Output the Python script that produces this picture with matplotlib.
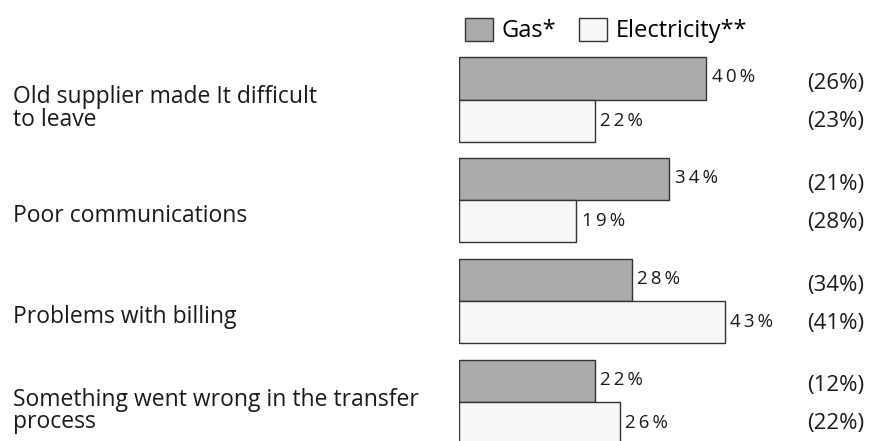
import matplotlib.pyplot as plt
from matplotlib.patches import Patch
from matplotlib.transforms import blended_transform_factory

plt.rcParams['font.family'] = ['Open Sans', 'DejaVu Sans']

categories = ["Old supplier made It difficult\nto leave",
              "Poor communications",
              "Problems with billing",
              "Something went wrong in the transfer\nprocess"]
gas = [40, 34, 28, 22]
elec = [22, 19, 43, 26]
gas_prev = [26, 21, 34, 12]
elec_prev = [23, 28, 41, 22]
series_names = ["Gas*", "Electricity**"]

gas_col = '#ababab'
elec_col = '#f7f7f7'
edge = '#333333'
txt = '#1a1a1a'

W, H = 874, 441
fig = plt.figure(figsize=(W / 100, H / 100), dpi=100)
x0 = 459
ax = fig.add_axes([x0 / W, 0, 1 - x0 / W, 1])
ppu = 6.175          # pixels per percent
ax.set_xlim(0, (W - x0) / ppu)
step = 100.8
ax.set_ylim((H - 99.5) / step, -99.5 / step)
ax.axis('off')

h = 0.417
ys = list(range(len(categories)))
ax.barh([y - h / 2 for y in ys], gas, height=h, color=gas_col, edgecolor=edge, linewidth=1)
ax.barh([y + h / 2 for y in ys], elec, height=h, color=elec_col, edgecolor=edge, linewidth=1)

def spaced(v):
    return '\u2009'.join(f"{v}%")

tr = blended_transform_factory(fig.transFigure, ax.transData)
for y, g, e, gp, ep, cat in zip(ys, gas, elec, gas_prev, elec_prev, categories):
    ax.text(g + 0.9, y - h / 2 - 0.01, spaced(g), va='center', ha='left', fontsize=13.5, color=txt)
    ax.text(e + 0.9, y + h / 2, spaced(e), va='center', ha='left', fontsize=13.5, color=txt)
    ax.text(0.989, y - h / 2 + 0.05, f"({gp}%)", transform=tr, va='center', ha='right', fontsize=16, color=txt)
    ax.text(0.989, y + h / 2 + 0.01, f"({ep}%)", transform=tr, va='center', ha='right', fontsize=16, color=txt)
    off = 0.09 if '\n' in cat else 0.16
    ax.text(13 / W, y + off, cat, transform=tr, va='center', ha='left', fontsize=16.5,
            color=txt, linespacing=0.9)

handles = [Patch(facecolor=gas_col, edgecolor=edge), Patch(facecolor=elec_col, edgecolor=edge)]
fig.legend(handles, series_names, loc='center left', bbox_to_anchor=(465 / W, 1 - 30.5 / H),
           ncol=2, frameon=False, fontsize=17, handlelength=1.19, handleheight=1.14,
           handletextpad=0.34, columnspacing=1.0, borderaxespad=0, borderpad=0)

fig.savefig('out.png', dpi=100)
